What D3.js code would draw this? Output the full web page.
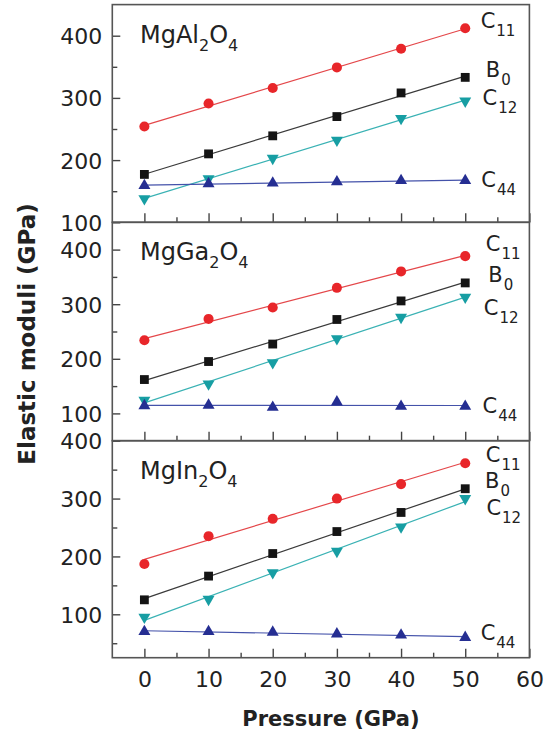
<!DOCTYPE html>
<html>
<head>
<meta charset="utf-8">
<script src="https://cdn.jsdelivr.net/npm/d3@7"></script>
<style>
  body { margin: 0; background: #fff; }
  svg { display: block; font-family: "DejaVu Sans", sans-serif; }
</style>
</head>
<body>
<svg id="chart" width="557" height="737"></svg>
<script>
// pressure points (GPa)
const pressure = [0, 10, 20, 30, 40, 50];

// MgAl2O4
const alC11 = [254, 291, 316, 349, 379, 412];
const alB0  = [177, 210, 239, 270, 308, 333];
const alC12 = [138, 170, 203, 232, 267, 295];
const alC44 = [159, 162, 163, 165, 167, 167];

// MgGa2O4
const gaC11 = [234, 273, 294, 330, 360, 388];
const gaB0  = [162, 195, 227, 272, 306, 339];
const gaC12 = [124, 154, 193, 237, 276, 313];
const gaC44 = [114, 115, 111, 121, 113, 113];

// MgIn2O4
const inC11 = [187, 235, 265, 300, 325, 361];
const inB0  = [125, 166, 205, 243, 276, 317];
const inC12 = [95, 126, 172, 209, 251, 300];
const inC44 = [70, 70, 69, 66, 64, 60];

const xTicks = [0, 10, 20, 30, 40, 50, 60];
const yTicks = [100, 200, 300, 400];

const series = [
    { key: "C11", sub: "11", base: "C", mark: "circle", fill: "#e8262a", line: "#e4474a" },
    { key: "B0",  sub: "0",  base: "B", mark: "square", fill: "#141414", line: "#3a3a3a" },
    { key: "C12", sub: "12", base: "C", mark: "tri-down", fill: "#179ea3", line: "#3ab2b4" },
    { key: "C44", sub: "44", base: "C", mark: "tri-up", fill: "#252e92", line: "#4452aa" }
];

const panels = [
    { name: "MgAl", metal: "Al", yDomain: [100, 450], minor: [150, 250, 350],
      data: { C11: alC11, B0: alB0, C12: alC12, C44: alC44 },
      labels: { C11: [52.4, 412], B0: [53.2, 334], C12: [52.7, 289], C44: [52.5, 157] } },
    { name: "MgGa", metal: "Ga", yDomain: [50, 450], minor: [150, 250, 350],
      data: { C11: gaC11, B0: gaB0, C12: gaC12, C44: gaC44 },
      labels: { C11: [53.2, 397], B0: [53.6, 341], C12: [52.9, 281], C44: [52.7, 101] } },
    { name: "MgIn", metal: "In", yDomain: [25, 400], minor: [50, 150, 250, 350],
      data: { C11: inC11, B0: inB0, C12: inC12, C44: inC44 },
      labels: { C11: [53.2, 364], B0: [53.1, 318], C12: [53.3, 272], C44: [52.4, 56] } }
];

const svg = d3.select("#chart");
const left = 112.3, right = 529.4;
const edges = [4.6, 222.3, 440.7, 657.7];

const x = d3.scaleLinear().domain([-5, 60]).range([left, right]);

const symbolFor = {
    "circle": d3.symbol().type(d3.symbolCircle).size(80),
    "square": d3.symbol().type(d3.symbolSquare).size(78),
    "tri-up": d3.symbol().type(d3.symbolTriangle).size(62),
    "tri-down": d3.symbol().type(d3.symbolTriangle).size(62)
};

function fit(xs, ys) {
    const mx = d3.mean(xs), my = d3.mean(ys);
    let num = 0, den = 0;
    xs.forEach((v, i) => { num += (v - mx) * (ys[i] - my); den += (v - mx) * (v - mx); });
    const slope = num / den;
    return v => my + slope * (v - mx);
}

panels.forEach((p, pi) => {
    const top = edges[pi], bottom = edges[pi + 1];
    const y = d3.scaleLinear().domain(p.yDomain).range([bottom, top]);
    const g = svg.append("g");

    // y axis major + minor, ticks pointing inward
    const yAx = g.append("g").attr("transform", `translate(${left},0)`)
        .call(d3.axisLeft(y).tickValues(yTicks).tickSize(-8).tickPadding(10));
    yAx.select(".domain").remove();
    yAx.selectAll("line").attr("stroke", "#444").attr("stroke-width", 1.4);
    yAx.selectAll("text").attr("font-size", 22).attr("fill", "#222")
        .attr("font-family", "DejaVu Sans").attr("dy", "0.36em");

    const yMin = g.append("g").attr("transform", `translate(${left},0)`)
        .call(d3.axisLeft(y).tickValues(p.minor).tickSize(-5).tickFormat(""));
    yMin.select(".domain").remove();
    yMin.selectAll("line").attr("stroke", "#444").attr("stroke-width", 1.4);

    // x axis at the bottom of every panel
    const xAx = g.append("g").attr("transform", `translate(0,${bottom})`)
        .call(d3.axisBottom(x).tickValues(xTicks).tickSize(-9).tickPadding(14)
            .tickFormat(pi === 2 ? d3.format("d") : ""));
    xAx.select(".domain").remove();
    xAx.selectAll("line").attr("stroke", "#444").attr("stroke-width", 1.4);
    xAx.selectAll("text").attr("font-size", 22).attr("fill", "#222")
        .attr("font-family", "DejaVu Sans");

    const xMin = g.append("g").attr("transform", `translate(0,${bottom})`)
        .call(d3.axisBottom(x).tickValues(d3.range(5, 60, 10)).tickSize(-5).tickFormat(""));
    xMin.select(".domain").remove();
    xMin.selectAll("line").attr("stroke", "#444").attr("stroke-width", 1.4);

    // frame
    g.append("rect").attr("x", left).attr("y", top)
        .attr("width", right - left).attr("height", bottom - top)
        .attr("fill", "none").attr("stroke", "#555").attr("stroke-width", 1.6);

    // fitted lines and markers
    series.forEach(s => {
        const vals = p.data[s.key];
        const f = fit(pressure, vals);
        g.append("line")
            .attr("x1", x(0)).attr("y1", y(f(0)))
            .attr("x2", x(50)).attr("y2", y(f(50)))
            .attr("stroke", s.line).attr("stroke-width", 1.2);

        g.selectAll(null).data(pressure.map((v, i) => [v, vals[i]])).enter()
            .append("path")
            .attr("d", symbolFor[s.mark]())
            .attr("transform", d => `translate(${x(d[0])},${y(d[1])})` + (s.mark === "tri-down" ? " rotate(180)" : ""))
            .attr("fill", s.fill);

        const lp = p.labels[s.key];
        const t = g.append("text").attr("x", x(lp[0])).attr("y", y(lp[1]))
            .attr("font-size", 21).attr("fill", "#222");
        t.append("tspan").text(s.base);
        t.append("tspan").attr("dy", 8).attr("dx", 1).attr("font-size", 15).text(s.sub);
    });

    // compound name
    const name = g.append("text").attr("x", 140).attr("y", top + 38)
        .attr("font-size", 24).attr("fill", "#222");
    name.append("tspan").text(p.name);
    name.append("tspan").attr("dy", 8).attr("font-size", 16).text("2");
    name.append("tspan").attr("dy", -8).text("O");
    name.append("tspan").attr("dy", 8).attr("font-size", 16).text("4");
});

// axis titles
svg.append("text")
    .attr("transform", "translate(35,334) rotate(-90)")
    .attr("text-anchor", "middle").attr("font-weight", "bold")
    .attr("font-size", 23).attr("fill", "#222")
    .text("Elastic moduli (GPa)");

svg.append("text")
    .attr("x", 331).attr("y", 726)
    .attr("text-anchor", "middle").attr("font-weight", "bold")
    .attr("font-size", 21).attr("fill", "#222")
    .text("Pressure (GPa)");
</script>
</body>
</html>
